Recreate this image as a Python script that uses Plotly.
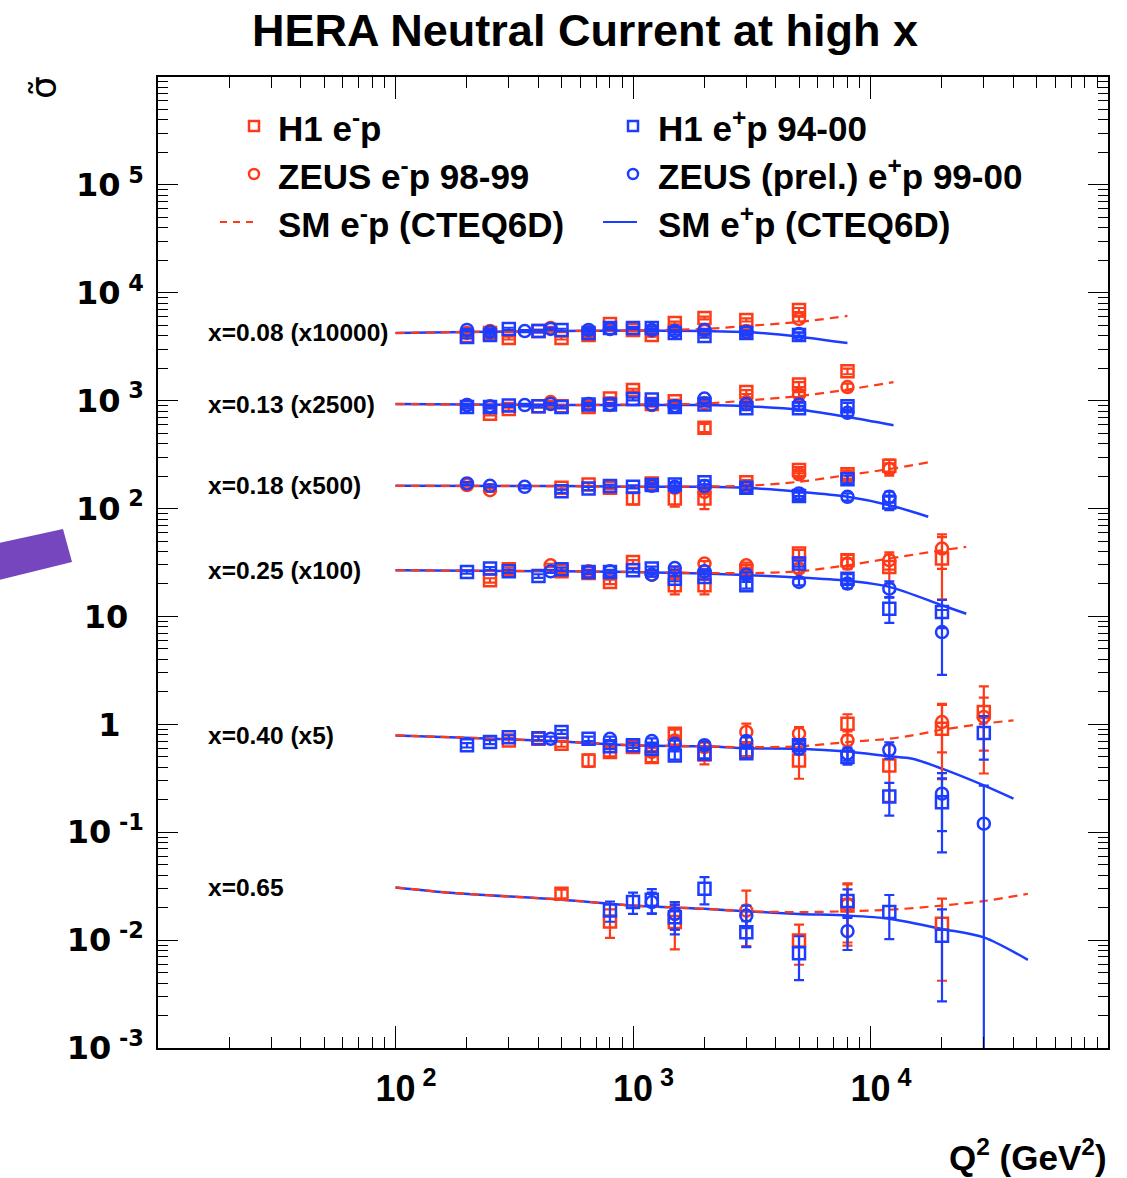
import math
import plotly.graph_objects as go

# ---------------- data (reduced cross section sigma~, unscaled) ----------------
X_BINS = [0.08, 0.13, 0.18, 0.25, 0.40, 0.65]
SCALE = [10000, 2500, 500, 100, 5, 1]
BIN_LABELS = ["x=0.08 (x10000)", "x=0.13 (x2500)", "x=0.18 (x500)",
              "x=0.25 (x100)", "x=0.40 (x5)", "x=0.65"]

Q2_H1 = [200, 250, 300, 400, 500, 650, 800, 1000, 1200, 1500, 2000, 3000, 5000, 8000, 12000, 20000, 30000]
Q2_ZEUS = [200, 250, 350, 450, 650, 800, 1200, 1500, 2000, 3000, 5000, 8000, 12000, 20000, 30000]
N = None

H1_EP_SIGMA = [
    [0.389, 0.406, 0.462, 0.442, 0.452, 0.424, 0.472, 0.472, 0.472, 0.424, 0.398, 0.424, 0.406, N, N, N, N],
    [0.349, 0.349, 0.360, 0.356, 0.349, 0.368, 0.368, 0.414, 0.409, 0.349, 0.368, 0.341, 0.341, 0.356, N, N, N],
    [N, N, N, N, 0.290, 0.307, 0.323, 0.318, 0.330, 0.335, 0.350, 0.311, 0.261, 0.373, 0.228, N, N],
    [0.258, 0.278, 0.262, 0.237, 0.274, 0.258, 0.258, 0.268, 0.278, 0.224, 0.232, 0.195, 0.309, 0.224, 0.118, 0.110, N],
    [0.128, 0.137, 0.152, 0.149, 0.170, 0.147, 0.125, 0.128, 0.119, 0.103, 0.107, 0.108, 0.128, 0.0994, 0.0429, 0.0380, 0.166],
    [N, N, N, N, N, N, 0.0188, 0.0225, 0.0237, 0.0163, 0.0299, 0.0118, 0.00756, 0.0230, 0.0182, 0.0110, N],
]
H1_EP_ERR = [
    [0.012, 0.012, 0.012, 0.012, 0.012, 0.012, 0.012, 0.012, 0.013, 0.014, 0.015, 0.016, 0.02, N, N, N, N],
    [0.01, 0.01, 0.01, 0.01, 0.01, 0.01, 0.01, 0.012, 0.012, 0.012, 0.014, 0.015, 0.018, 0.025, N, N, N],
    [N, N, N, N, 0.01, 0.01, 0.01, 0.011, 0.012, 0.013, 0.015, 0.016, 0.02, 0.03, 0.035, N, N],
    [0.009, 0.009, 0.009, 0.009, 0.009, 0.009, 0.009, 0.01, 0.011, 0.012, 0.013, 0.014, 0.02, 0.022, 0.031, 0.032, N],
    [0.006, 0.006, 0.006, 0.006, 0.007, 0.007, 0.007, 0.007, 0.008, 0.009, 0.01, 0.011, 0.013, 0.015, 0.0144, 0.025, 0.072],
    [N, N, N, N, N, N, 0.004, 0.005, 0.006, 0.005, 0.0085, 0.0032, 0.0033, 0.0065, 0.008, 0.0083, N],
]
H1_EM_SIGMA = [
    [0.398, 0.424, 0.381, 0.442, 0.381, 0.406, 0.514, 0.452, 0.406, 0.525, 0.584, 0.560, 0.693, N, N, N, N],
    [N, 0.302, 0.334, 0.356, 0.356, 0.349, 0.418, 0.502, 0.372, 0.396, 0.224, 0.481, 0.564, 0.748, N, N, N],
    [N, N, N, N, 0.311, 0.335, 0.311, 0.248, 0.342, 0.248, 0.248, 0.350, 0.455, 0.415, 0.498, N, N],
    [N, 0.216, 0.274, N, 0.262, 0.253, 0.209, 0.320, N, 0.195, 0.195, 0.262, 0.383, 0.332, 0.288, 0.344, N],
    [N, N, 0.142, 0.147, 0.132, 0.0926, 0.111, 0.123, 0.0994, 0.164, 0.105, 0.115, 0.0926, 0.203, 0.0832, 0.182, 0.260],
    [N, N, N, N, 0.0269, N, 0.0149, N, N, 0.0147, N, N, 0.00991, 0.0209, N, 0.0142, N],
]
H1_EM_ERR = [
    [0.012, 0.012, 0.012, 0.012, 0.012, 0.012, 0.014, 0.013, 0.013, 0.015, 0.017, 0.018, 0.03, N, N, N, N],
    [N, 0.01, 0.01, 0.01, 0.01, 0.01, 0.012, 0.014, 0.012, 0.014, 0.02, 0.02, 0.03, 0.045, N, N, N],
    [N, N, N, N, 0.01, 0.01, 0.01, 0.03, 0.012, 0.04, 0.05, 0.018, 0.03, 0.035, 0.07, N, N],
    [N, 0.01, 0.009, N, 0.009, 0.009, 0.01, 0.012, N, 0.035, 0.035, 0.016, 0.03, 0.04, 0.087, 0.2, N],
    [N, N, 0.007, 0.007, 0.008, 0.012, 0.01, 0.01, 0.01, 0.015, 0.02, 0.015, 0.03, 0.045, 0.045, 0.12, 0.19],
    [N, N, N, N, 0.0025, N, 0.0044, N, N, 0.0065, N, N, 0.004, 0.012, N, 0.01, N],
]
ZEUS_EP_SIGMA = [
    [0.452, 0.433, 0.442, 0.462, 0.452, 0.462, 0.452, 0.442, 0.452, 0.433, 0.415, N, N, N, N],
    [0.364, 0.356, 0.364, 0.372, 0.372, 0.372, 0.368, 0.356, 0.418, 0.372, 0.368, 0.309, N, N, N],
    [0.342, 0.325, 0.318, N, N, N, 0.325, 0.318, 0.323, 0.311, 0.276, 0.257, 0.257, N, N],
    [N, N, N, 0.262, 0.258, 0.262, 0.244, 0.281, 0.262, 0.244, 0.209, 0.202, 0.181, 0.0717, N],
    [N, N, N, 0.147, N, 0.147, 0.140, 0.132, 0.128, 0.140, 0.119, 0.107, 0.116, 0.0455, 0.0240],
    [N, N, N, N, N, N, 0.0225, 0.0175, N, 0.0169, N, 0.0121, N, N, N],
]
ZEUS_EP_ERR = [
    [0.01, 0.01, 0.01, 0.01, 0.01, 0.01, 0.01, 0.01, 0.01, 0.012, 0.015, N, N, N, N],
    [0.01, 0.01, 0.01, 0.01, 0.01, 0.01, 0.01, 0.01, 0.01, 0.012, 0.015, 0.02, N, N, N],
    [0.01, 0.01, 0.01, N, N, N, 0.01, 0.01, 0.011, 0.012, 0.015, 0.02, 0.03, N, N],
    [N, N, N, 0.009, 0.009, 0.009, 0.01, 0.01, 0.011, 0.012, 0.015, 0.02, 0.03, 0.043, N],
    [N, N, N, 0.007, N, 0.007, 0.008, 0.009, 0.01, 0.012, 0.013, 0.015, 0.02, 0.025, 0.030],
    [N, N, N, N, N, N, 0.005, 0.005, N, 0.004, N, 0.004, N, N, N],
]
ZEUS_EM_SIGMA = [
    [0.424, 0.442, N, 0.472, 0.433, 0.462, 0.442, 0.442, 0.442, 0.442, 0.572, N, N, N, N],
    [0.364, 0.349, N, 0.388, 0.372, 0.364, 0.364, 0.356, 0.380, 0.388, 0.456, 0.535, N, N, N],
    [0.330, 0.296, N, N, N, N, N, 0.311, 0.286, 0.318, 0.415, 0.394, 0.464, N, N],
    [N, N, N, 0.298, 0.262, N, 0.244, 0.253, 0.309, 0.298, 0.278, 0.309, 0.332, 0.426, N],
    [N, N, N, N, N, N, 0.111, 0.142, 0.123, 0.170, 0.164, 0.142, N, 0.210, 0.234],
    [N, N, N, N, N, N, N, 0.0175, N, 0.0188, N, 0.0215, N, N, N],
]
ZEUS_EM_ERR = [
    [0.012, 0.012, N, 0.012, 0.012, 0.012, 0.012, 0.013, 0.014, 0.015, 0.03, N, N, N, N],
    [0.01, 0.01, N, 0.01, 0.01, 0.01, 0.012, 0.012, 0.014, 0.016, 0.025, 0.04, N, N, N],
    [0.01, 0.01, N, N, N, N, N, 0.012, 0.014, 0.016, 0.03, 0.035, 0.06, N, N],
    [N, N, N, 0.01, 0.01, N, 0.012, 0.014, 0.016, 0.018, 0.025, 0.035, 0.06, 0.15, N],
    [N, N, N, N, N, N, 0.01, 0.012, 0.012, 0.033, 0.025, 0.03, N, 0.1, 0.12],
    [N, N, N, N, N, N, N, 0.005, N, 0.01, N, 0.012, N, N, N],
]

# Standard Model (CTEQ6D) curves per x bin
SM_Q2 = [
    [100, 200, 500, 1000, 2000, 3000, 5000, 8000],
    [100, 200, 500, 1000, 2000, 3000, 5000, 8000, 12500],
    [100, 500, 1000, 2000, 3000, 5000, 8000, 12000, 17500],
    [100, 500, 1000, 2000, 3000, 5000, 8000, 12000, 20000, 25300],
    [100, 170, 500, 1000, 2000, 3000, 5000, 8000, 12000, 15000, 20000, 30000, 40000],
    [100, 170, 500, 1000, 2000, 3000, 5000, 8000, 12000, 20000, 30000, 46000],
]
SM_EP = [
    [0.424, 0.433, 0.442, 0.447, 0.442, 0.433, 0.392, 0.342],
    [0.372, 0.368, 0.364, 0.364, 0.364, 0.356, 0.331, 0.282, 0.237],
    [0.325, 0.323, 0.318, 0.318, 0.311, 0.286, 0.257, 0.215, 0.168],
    [0.268, 0.262, 0.258, 0.250, 0.242, 0.230, 0.214, 0.188, 0.127, 0.106],
    [0.158, 0.152, 0.139, 0.128, 0.125, 0.120, 0.119, 0.112, 0.101, 0.0960, 0.0776, 0.0543, 0.0409],
    [0.0308, 0.0275, 0.0237, 0.0209, 0.0195, 0.0185, 0.0175, 0.0169, 0.0158, 0.0127, 0.0106, 0.00656],
]
SM_EM = [
    [0.424, 0.433, 0.442, 0.447, 0.462, 0.492, 0.536, 0.610],
    [0.372, 0.368, 0.364, 0.368, 0.376, 0.401, 0.441, 0.507, 0.595],
    [0.325, 0.323, 0.318, 0.321, 0.325, 0.354, 0.409, 0.464, 0.536],
    [0.268, 0.262, 0.258, 0.253, 0.252, 0.262, 0.298, 0.344, 0.411, 0.441],
    [0.158, 0.152, 0.139, 0.128, 0.125, 0.123, 0.125, 0.137, 0.147, 0.158, 0.178, 0.203, 0.218],
    [0.0308, 0.0275, 0.0237, 0.0209, 0.0195, 0.0185, 0.0182, 0.0185, 0.0191, 0.0209, 0.0230, 0.0269],
]

LEGEND_TEXT = ["H1 e<sup>-</sup>p", "H1 e<sup>+</sup>p 94-00",
               "ZEUS e<sup>-</sup>p 98-99", "ZEUS (prel.) e<sup>+</sup>p 99-00",
               "SM e<sup>-</sup>p (CTEQ6D)", "SM e<sup>+</sup>p (CTEQ6D)"]

# ---------------- style ----------------
RED = "#ff3a17"
BLUE = "#1c3dff"
W, H = 1127, 1178
L, R, T, B = 158, 19, 77, 130
PW, PH = W - L - R, H - T - B
WIDE = "DejaVu Sans"
HELV = "Liberation Sans"
NBSP = "\u00a0"


def px(xp):
    return (xp - L) / PW


def py(yp):
    return (H - B - yp) / PH


fig = go.Figure()


def points(q2, vals, errs, s, color, symbol):
    xs, ys, es = [], [], []
    for q, v, e in zip(q2, vals, errs):
        if v is None:
            continue
        xs.append(q)
        ys.append(v * s)
        es.append((e or 0) * s)
    fig.add_trace(go.Scatter(
        x=xs, y=ys, mode="markers", showlegend=False,
        marker=dict(symbol=symbol, size=12, color=color, line=dict(width=2.5, color=color)),
        error_y=dict(type="data", array=es, visible=True, color=color, thickness=2.2, width=5),
    ))


for i, s in enumerate(SCALE):
    fig.add_trace(go.Scatter(x=SM_Q2[i], y=[v * s for v in SM_EP[i]], mode="lines",
                             line=dict(color=BLUE, width=2.5, shape="spline", smoothing=0.8),
                             showlegend=False))
    fig.add_trace(go.Scatter(x=SM_Q2[i], y=[v * s for v in SM_EM[i]], mode="lines",
                             line=dict(color=RED, width=2.2, dash="9px,6px", shape="spline", smoothing=0.8),
                             showlegend=False))
for i, s in enumerate(SCALE):
    points(Q2_H1, H1_EM_SIGMA[i], H1_EM_ERR[i], s, RED, "square-open")
    points(Q2_ZEUS, ZEUS_EM_SIGMA[i], ZEUS_EM_ERR[i], s, RED, "circle-open")
for i, s in enumerate(SCALE):
    points(Q2_H1, H1_EP_SIGMA[i], H1_EP_ERR[i], s, BLUE, "square-open")
    points(Q2_ZEUS, ZEUS_EP_SIGMA[i], ZEUS_EP_ERR[i], s, BLUE, "circle-open")

annotations = []
# bin labels, vertically at the start of the SM curve
for i, s in enumerate(SCALE):
    annotations.append(dict(xref="paper", yref="y", x=px(206), y=math.log10(SM_EP[i][0] * s),
                            xanchor="left", yanchor="middle", showarrow=False, text=BIN_LABELS[i],
                            font=dict(family=HELV, size=24.5, color="black", weight="bold")))

# manual legend
leg_rows = [126, 174, 222]
leg_cols = [(254, 276), (633, 656)]
shapes = []
for k, txt in enumerate(LEGEND_TEXT):
    r, c = divmod(k, 2)
    yy = py(leg_rows[r])
    xm, xt = leg_cols[c]
    color = RED if c == 0 else BLUE
    annotations.append(dict(xref="paper", yref="paper", x=px(xt), y=yy, xanchor="left", yanchor="middle",
                            showarrow=False, text=txt,
                            font=dict(family=HELV, size=35, color="black", weight="bold")))
    if r == 0:
        shapes.append(dict(type="rect", xref="paper", yref="paper", xsizemode="pixel", ysizemode="pixel",
                           xanchor=px(xm), yanchor=yy, x0=-5, x1=5, y0=-5, y1=5,
                           line=dict(color=color, width=2.5)))
    elif r == 1:
        shapes.append(dict(type="circle", xref="paper", yref="paper", xsizemode="pixel", ysizemode="pixel",
                           xanchor=px(xm), yanchor=yy, x0=-5, x1=5, y0=-5, y1=5,
                           line=dict(color=color, width=2.5)))
    else:
        x0, x1 = (220, 256) if c == 0 else (603, 637)
        shapes.append(dict(type="line", xref="paper", yref="paper", x0=px(x0), x1=px(x1), y0=yy, y1=yy,
                           line=dict(color=color, width=2.2, dash="7px,6px" if c == 0 else "solid")))

# purple stroke at the left edge
shapes.append(dict(type="path", xref="paper", yref="paper",
                   path="M {:.4f},{:.4f} L {:.4f},{:.4f} L {:.4f},{:.4f} L {:.4f},{:.4f} Z".format(
                       px(-5), py(544), px(63), py(529), px(72), py(562), px(-5), py(581)),
                   fillcolor="#7646bf", line=dict(width=0)))

# title, axis titles
annotations.append(dict(xref="paper", yref="paper", x=px(585), y=py(31), xanchor="center", yanchor="middle",
                        showarrow=False, text="HERA Neutral Current at high x",
                        font=dict(family=HELV, size=45, color="black", weight="bold")))
annotations.append(dict(xref="paper", yref="paper", x=px(1109), y=py(1155), xanchor="right", yanchor="middle",
                        showarrow=False, text="Q<sup>2</sup> (GeV<sup>2</sup>)",
                        font=dict(family=HELV, size=35, color="black", weight="bold")))
annotations.append(dict(xref="paper", yref="paper", x=px(44), y=py(88), xanchor="center", yanchor="middle",
                        showarrow=False, text="σ\u0303", textangle=-90,
                        font=dict(family=WIDE, size=36, color="black")))

inv = '<sup><span style="color:white">{}</span></sup>'
ytickvals = [1e-3, 1e-2, 1e-1, 1, 10, 100, 1e3, 1e4, 1e5]
yticktext = ["10<sup>" + NBSP + "-3</sup>", "10<sup>" + NBSP + "-2</sup>", "10<sup>" + NBSP + "-1</sup>",
             "1" + inv.format(NBSP + "5"), "10" + inv.format("5"),
             "10<sup>" + NBSP + "2</sup>", "10<sup>" + NBSP + "3</sup>",
             "10<sup>" + NBSP + "4</sup>", "10<sup>" + NBSP + "5</sup>"]
xtickvals = [100, 1000, 10000]
xticktext = [inv.format(NBSP + e) + "10<sup>" + NBSP + e + "</sup>" for e in ["2", "3", "4"]]

minor_x = [m * 10 ** d for d in range(1, 5) for m in range(2, 10)]
minor_y = [m * 10 ** d for d in range(-3, 6) for m in range(2, 10)]

fig.update_layout(
    width=W, height=H, autosize=False,
    margin=dict(l=L, r=R, t=T, b=B, pad=0),
    paper_bgcolor="white", plot_bgcolor="white",
    showlegend=False,
    annotations=annotations, shapes=shapes,
    xaxis=dict(type="log", range=[1, 5], showgrid=False, zeroline=False,
               showline=True, linecolor="black", linewidth=1.5, mirror="ticks",
               ticks="inside", ticklen=22, tickwidth=1, tickcolor="black",
               tickmode="array", tickvals=xtickvals, ticktext=xticktext,
               tickfont=dict(family=HELV, size=36, color="black", weight="bold"),
               ticklabelstandoff=8,
               minor=dict(ticks="inside", ticklen=11, tickwidth=1, tickcolor="black",
                          tickmode="array", tickvals=minor_x, showgrid=False)),
    yaxis=dict(type="log", range=[-3, 6], showgrid=False, zeroline=False,
               showline=True, linecolor="black", linewidth=1.5, mirror="ticks",
               ticks="inside", ticklen=20, tickwidth=1, tickcolor="black",
               tickmode="array", tickvals=ytickvals, ticktext=yticktext,
               tickfont=dict(family=WIDE, size=32, color="black", weight="bold"),
               ticklabelstandoff=6,
               minor=dict(ticks="inside", ticklen=10, tickwidth=1, tickcolor="black",
                          tickmode="array", tickvals=minor_y, showgrid=False)),
)

fig.write_html("out.html")
